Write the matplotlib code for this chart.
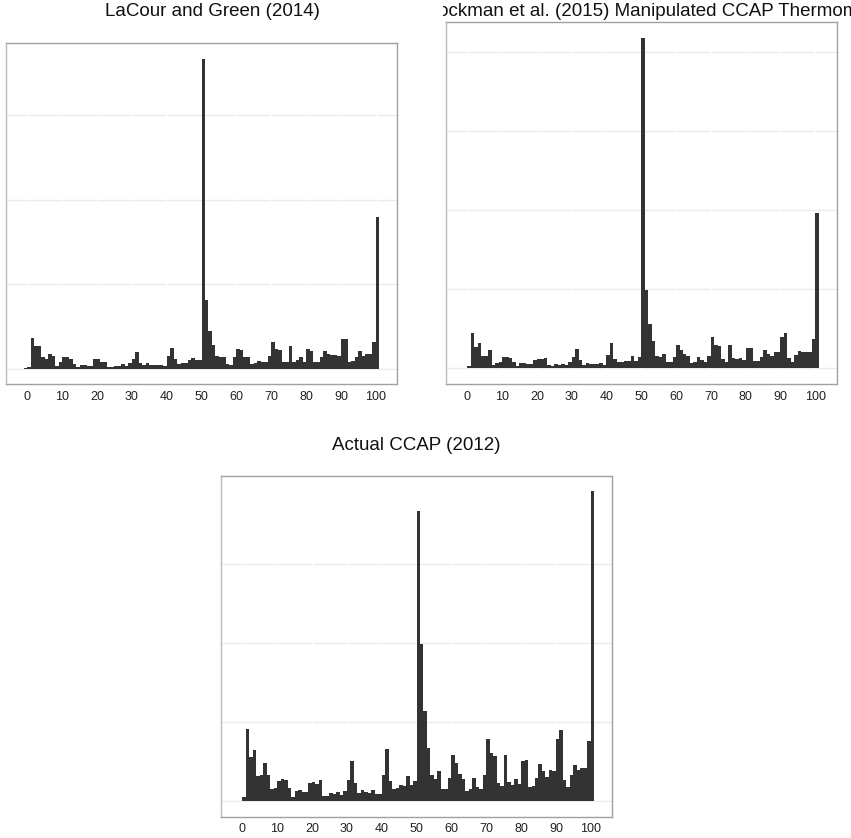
import matplotlib
matplotlib.use("Agg")
import matplotlib.pyplot as plt
import numpy as np
from matplotlib.transforms import Bbox, TransformedBbox

plt.rcParams["font.family"] = ["Liberation Sans", "DejaVu Sans"]

COLOR_BAR = "#333333"
COLOR_GRID = "#EBEBEB"
COLOR_FRAME = "#A0A0A0"

# left edge of each unit-wide bin, -1 .. 100
bin_left = np.arange(-1, 101)
tick_pos = np.arange(0, 101, 10)
tick_labels = [str(t) for t in tick_pos]

# bar heights (same unit as the horizontal grid lines)
lacour = [
    0.005, 0.02, 0.37, 0.27, 0.27, 0.14, 0.12, 0.18, 0.15, 0.03, 0.08,
    0.14, 0.14, 0.11, 0.06, 0.02, 0.04, 0.04, 0.035, 0.035, 0.11,
    0.11, 0.075, 0.08, 0.02, 0.02, 0.03, 0.03, 0.06, 0.03, 0.07,
    0.12, 0.2, 0.07, 0.04, 0.07, 0.05, 0.05, 0.05, 0.05, 0.035,
    0.15, 0.25, 0.12, 0.06, 0.07, 0.07, 0.1, 0.13, 0.1, 0.1,
    3.67, 0.815, 0.449, 0.283, 0.154, 0.134, 0.134, 0.059, 0.047, 0.134,
    0.236, 0.224, 0.134, 0.134, 0.059, 0.067, 0.098, 0.075, 0.083, 0.154,
    0.311, 0.236, 0.224, 0.083, 0.083, 0.264, 0.083, 0.106, 0.134, 0.075,
    0.236, 0.205, 0.075, 0.083, 0.138, 0.213, 0.177, 0.165, 0.165, 0.154,
    0.354, 0.354, 0.083, 0.098, 0.134, 0.213, 0.146, 0.177, 0.177, 0.311,
    1.79,
]

broockman = [
    0.005, 0.025, 0.447, 0.27, 0.32, 0.156, 0.156, 0.232, 0.038, 0.063, 0.08,
    0.135, 0.139, 0.131, 0.08, 0.025, 0.063, 0.063, 0.055, 0.055, 0.105,
    0.118, 0.114, 0.131, 0.042, 0.021, 0.051, 0.042, 0.051, 0.042, 0.08,
    0.135, 0.245, 0.105, 0.038, 0.063, 0.051, 0.051, 0.051, 0.063, 0.042,
    0.17, 0.32, 0.118, 0.08, 0.08, 0.089, 0.093, 0.156, 0.093, 0.135,
    4.18, 0.99, 0.56, 0.34, 0.156, 0.14, 0.18, 0.08, 0.08, 0.14,
    0.295, 0.232, 0.18, 0.148, 0.063, 0.08, 0.14, 0.097, 0.08, 0.156,
    0.397, 0.29, 0.283, 0.114, 0.08, 0.29, 0.122, 0.114, 0.13, 0.097,
    0.257, 0.257, 0.093, 0.093, 0.14, 0.232, 0.18, 0.156, 0.198, 0.198,
    0.397, 0.447, 0.127, 0.072, 0.169, 0.22, 0.198, 0.207, 0.207, 0.37,
    1.96,
]

ccap = [
    0.005, 0.055, 0.908, 0.555, 0.643, 0.315, 0.328, 0.479, 0.328, 0.155, 0.168,
    0.252, 0.28, 0.27, 0.168, 0.055, 0.126, 0.139, 0.113, 0.113, 0.227,
    0.24, 0.214, 0.27, 0.071, 0.063, 0.1, 0.092, 0.113, 0.084, 0.126,
    0.27, 0.504, 0.227, 0.1, 0.139, 0.118, 0.105, 0.139, 0.092, 0.092,
    0.328, 0.655, 0.252, 0.16, 0.168, 0.2, 0.193, 0.315, 0.2, 0.252,
    3.67, 1.99, 1.135, 0.668, 0.328, 0.277, 0.378, 0.151, 0.151, 0.29,
    0.588, 0.479, 0.34, 0.277, 0.126, 0.151, 0.29, 0.176, 0.151, 0.328,
    0.79, 0.605, 0.567, 0.227, 0.189, 0.58, 0.24, 0.202, 0.277, 0.214,
    0.504, 0.517, 0.176, 0.189, 0.29, 0.466, 0.378, 0.303, 0.391, 0.378,
    0.79, 0.895, 0.265, 0.176, 0.328, 0.454, 0.391, 0.416, 0.416, 0.756,
    3.92,
]

W, H = 851, 838
fig = plt.figure(figsize=(W / 100, H / 100), dpi=100)
fig.patch.set_facecolor("white")


def px_axes(left, top, right, bottom):
    return fig.add_axes([left / W, 1 - bottom / H, (right - left) / W, (bottom - top) / H])


def draw_hist(ax, heights):
    heights = np.asarray(heights)
    top = heights.max()
    ax.bar(bin_left, heights, width=1.0, align="edge", color=COLOR_BAR,
           linewidth=0, zorder=3)
    ax.set_xlim(-6.1, 106.1)
    ax.set_ylim(-0.05 * top, 1.05 * top)
    for g in np.arange(0, top + 0.01, 1.0):
        ax.axhline(g, color=COLOR_GRID, lw=1.0, zorder=1)
    for t in tick_pos:
        ax.axvline(t, color="white", lw=0.9, zorder=2)
    ax.set_xticks(tick_pos)
    ax.set_xticklabels(tick_labels)
    ax.set_yticks([])
    ax.tick_params(axis="x", length=0, pad=4.5, labelsize=9, labelcolor="#222222")
    for side in ax.spines.values():
        side.set_color(COLOR_FRAME)
        side.set_linewidth(1.0)
    ax.spines["left"].set_color("#BBBBBB")
    ax.set_facecolor("white")


ax1 = px_axes(6, 43, 397, 384.3)
draw_hist(ax1, lacour)

ax2 = px_axes(446, 21.7, 836.5, 384.5)
draw_hist(ax2, broockman)

ax3 = px_axes(221, 475.7, 612, 816.7)
draw_hist(ax3, ccap)

title_kw = dict(fontsize=13.5, color="#111111", va="center")
fig.text(212.75 / W, 1 - 12 / H, "LaCour and Green (2014)", ha="center", **title_kw)
fig.text(416.5 / W, 1 - 445.7 / H, "Actual CCAP (2012)", ha="center", **title_kw)

# the reference clips this long title to its column, so it is clipped here too
t2 = fig.text(409 / W, 1 - 12 / H, "Broockman et al. (2015) Manipulated CCAP Thermometer",
              ha="left", **title_kw)
t2.set_clip_box(TransformedBbox(Bbox.from_extents(443 / W, 0, 1, 1), fig.transFigure))
t2.set_clip_on(True)

fig.savefig("out.png", dpi=100, facecolor="white")
